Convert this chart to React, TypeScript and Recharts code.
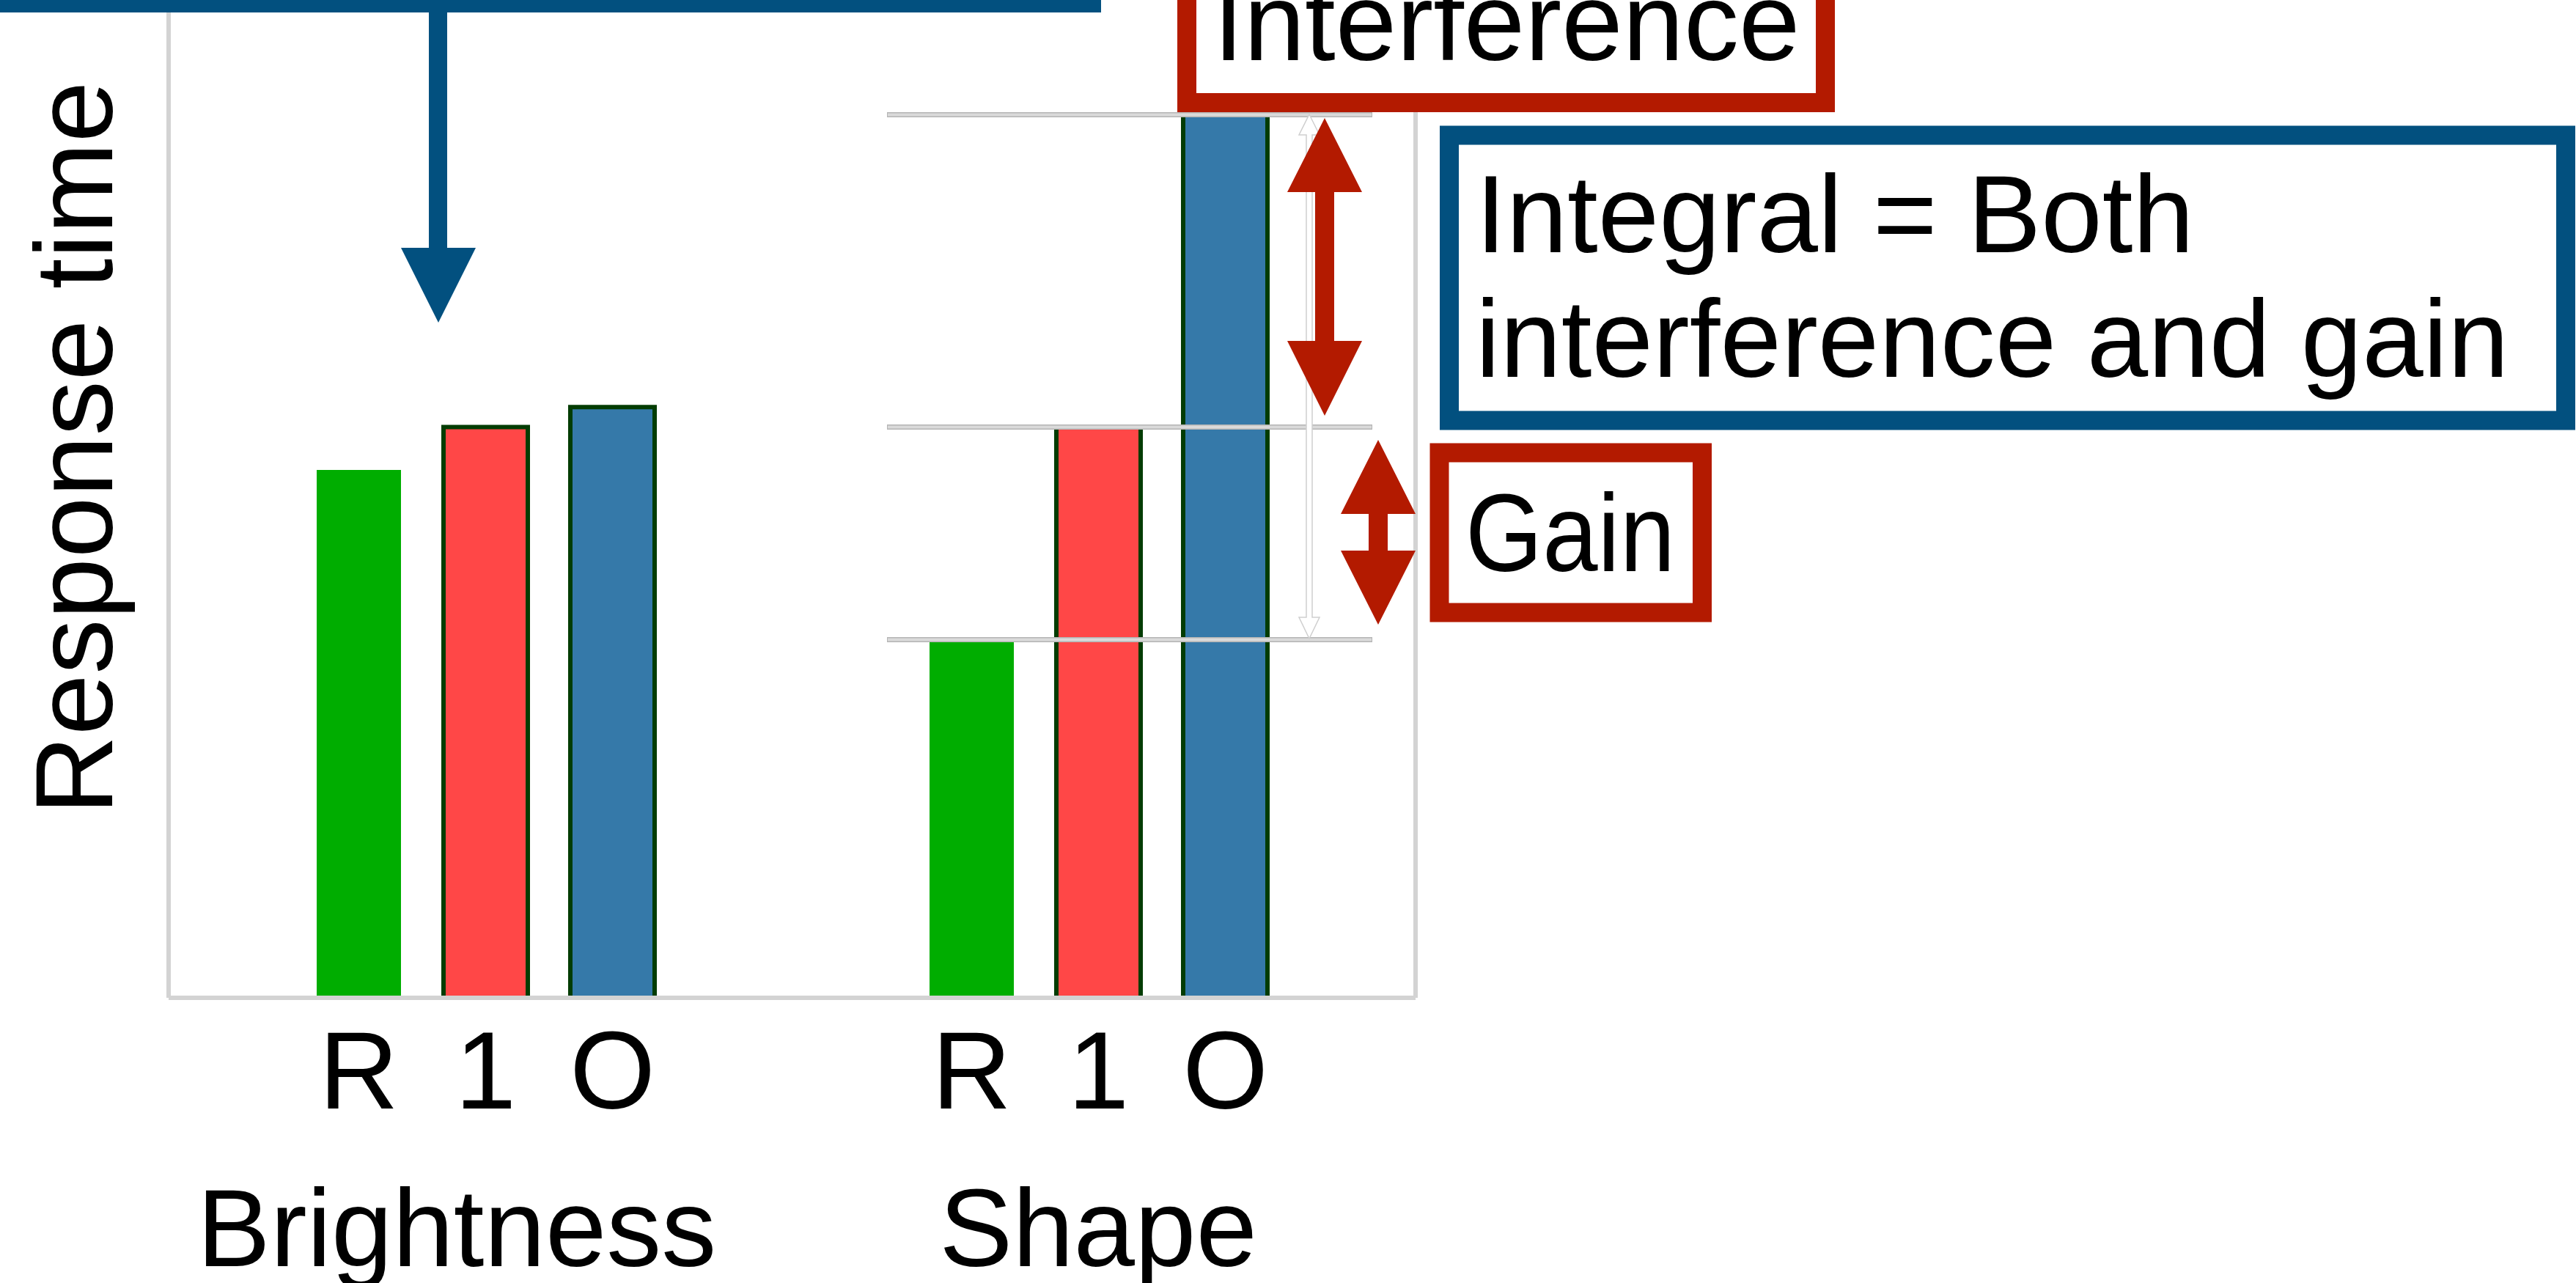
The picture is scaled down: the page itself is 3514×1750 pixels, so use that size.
import { BarChart, Bar, XAxis, YAxis, ReferenceLine, LabelList, Label } from 'recharts';

const categories = ['Brightness', 'Shape'];
const seriesLabels = ['R', '1', 'O'];
const rValues = [52.9, 35.9];
const oneValues = [57.2, 57.2];
const oValues = [59.2, 88.5];
const yDomain = [0, 100];

const data = categories.map((category, i) => ({
  category,
  r: rValues[i],
  one: oneValues[i],
  o: oValues[i],
}));

const FONT = "'Liberation Sans', Arial, Helvetica, sans-serif";
const RED = '#b31a00';
const NAVY = '#02507f';
const BAR_EDGE = '#033c03';
const FRAME = '#d3d3d3';

// the first group name sits a little left of its group centre in the original
const GROUP_NUDGE = [-39, 0];

function GroupTick({ x, y, payload, index }: any) {
  const dx = GROUP_NUDGE[index ?? payload?.index ?? 0] ?? 0;
  return (
    <text x={x + dx} y={y + 364} textAnchor="middle" fontFamily={FONT} fontSize={150} fill="#000">
      {payload.value}
    </text>
  );
}

// series letter under each bar, taken from the bar's own geometry
function seriesLabel(text: string) {
  return (props: any) => {
    const vb = props.viewBox ?? props;
    const { x, y, width, height } = vb;
    const bottom = Math.max(y, y + height);
    return (
      <text
        x={x + width / 2}
        y={bottom + 151}
        textAnchor="middle"
        fontFamily={FONT}
        fontSize={150}
        fill="#000"
      >
        {text}
      </text>
    );
  };
}

// light gray level line, only over the Shape group
function LevelLine({ y1 }: any) {
  return (
    <g>
      <line x1={1210} x2={1872} y1={y1} y2={y1} stroke="#b5b5b5" strokeWidth={7} />
      <line x1={1211} x2={1871} y1={y1} y2={y1} stroke="#dadada" strokeWidth={4} />
    </g>
  );
}

function YTitle({ viewBox }: any) {
  const x = (viewBox?.x ?? 0) + 153;
  const y = 611;
  return (
    <text
      x={x}
      y={y}
      transform={`rotate(-90 ${x} ${y})`}
      textAnchor="middle"
      fontFamily={FONT}
      fontSize={150}
      fill="#000"
    >
      Response time
    </text>
  );
}

const textStyle = { fontFamily: FONT, fontSize: 150, fill: '#000' };

export default function App() {
  return (
    <div style={{ position: 'absolute', left: 0, top: 0, width: 3514, height: 1750, background: '#fff' }}>
      <BarChart
        width={3514}
        height={1750}
        data={data}
        margin={{ top: 0, right: 1582, bottom: 0, left: 0 }}
        barSize={115}
        barGap={58}
      >
        <XAxis
          dataKey="category"
          height={389}
          padding={{ left: 14, right: 15 }}
          tickLine={false}
          tickSize={0}
          interval={0}
          tick={<GroupTick />}
          axisLine={{ stroke: FRAME, strokeWidth: 6 }}
        />
        <YAxis
          domain={yDomain}
          width={230}
          tick={false}
          tickLine={false}
          axisLine={{ stroke: FRAME, strokeWidth: 6 }}
        >
          <Label content={<YTitle />} />
        </YAxis>
        <YAxis
          yAxisId="frame"
          orientation="right"
          domain={yDomain}
          width={1}
          tick={false}
          tickLine={false}
          axisLine={{ stroke: FRAME, strokeWidth: 6 }}
        />
        <Bar dataKey="r" fill="#00ad00" isAnimationActive={false}>
          <LabelList dataKey="r" content={seriesLabel(seriesLabels[0])} />
        </Bar>
        <Bar dataKey="one" fill="#ff4747" stroke={BAR_EDGE} strokeWidth={6} isAnimationActive={false}>
          <LabelList dataKey="one" content={seriesLabel(seriesLabels[1])} />
        </Bar>
        <Bar dataKey="o" fill="#3579a9" stroke={BAR_EDGE} strokeWidth={6} isAnimationActive={false}>
          <LabelList dataKey="o" content={seriesLabel(seriesLabels[2])} />
        </Bar>
        <ReferenceLine y={oValues[1]} shape={<LevelLine />} />
        <ReferenceLine y={oneValues[1]} shape={<LevelLine />} />
        <ReferenceLine y={rValues[1]} shape={<LevelLine />} />
      </BarChart>

      <svg width={3514} height={1750} style={{ position: 'absolute', left: 0, top: 0 }}>
        {/* top bar and pointer */}
        <rect x={0} y={0} width={1502} height={17} fill={NAVY} />
        <rect x={585} y={0} width={25} height={340} fill={NAVY} />
        <polygon points="547,338 649,338 598,440" fill={NAVY} />

        {/* Interference */}
        <rect x={1619} y={-60} width={871} height={200} fill="#fff" stroke={RED} strokeWidth={26} />
        <text x={1655} y={82} {...textStyle}>Interference</text>

        {/* Integral */}
        <rect x={1977} y={184.5} width={1523} height={389} fill="#fff" stroke={NAVY} strokeWidth={26} />
        <text x={2013} y={344} {...textStyle}>Integral = Both</text>
        <text x={2013} y={514} {...textStyle}>interference and gain</text>

        {/* Gain */}
        <rect x={1963.5} y={617.5} width={358.5} height={218} fill="#fff" stroke={RED} strokeWidth={26} />
        <text x={1999} y={779} {...textStyle} textLength={286} lengthAdjust="spacingAndGlyphs">Gain</text>

        {/* thin span arrow */}
        <polygon
          points="1786,156 1800,184 1790,184 1790,842 1800,842 1786,871 1772,842 1782,842 1782,184 1772,184"
          fill="#fff"
          stroke="#cfcfcf"
          strokeWidth={1.5}
        />

        {/* double arrows */}
        <polygon
          points="1807,161 1858,262 1820,262 1820,465 1858,465 1807,567 1756,465 1794,465 1794,262 1756,262"
          fill={RED}
        />
        <polygon
          points="1880,600 1931,701 1893,701 1893,751 1931,751 1880,852 1829,751 1867,751 1867,701 1829,701"
          fill={RED}
        />
      </svg>
    </div>
  );
}
